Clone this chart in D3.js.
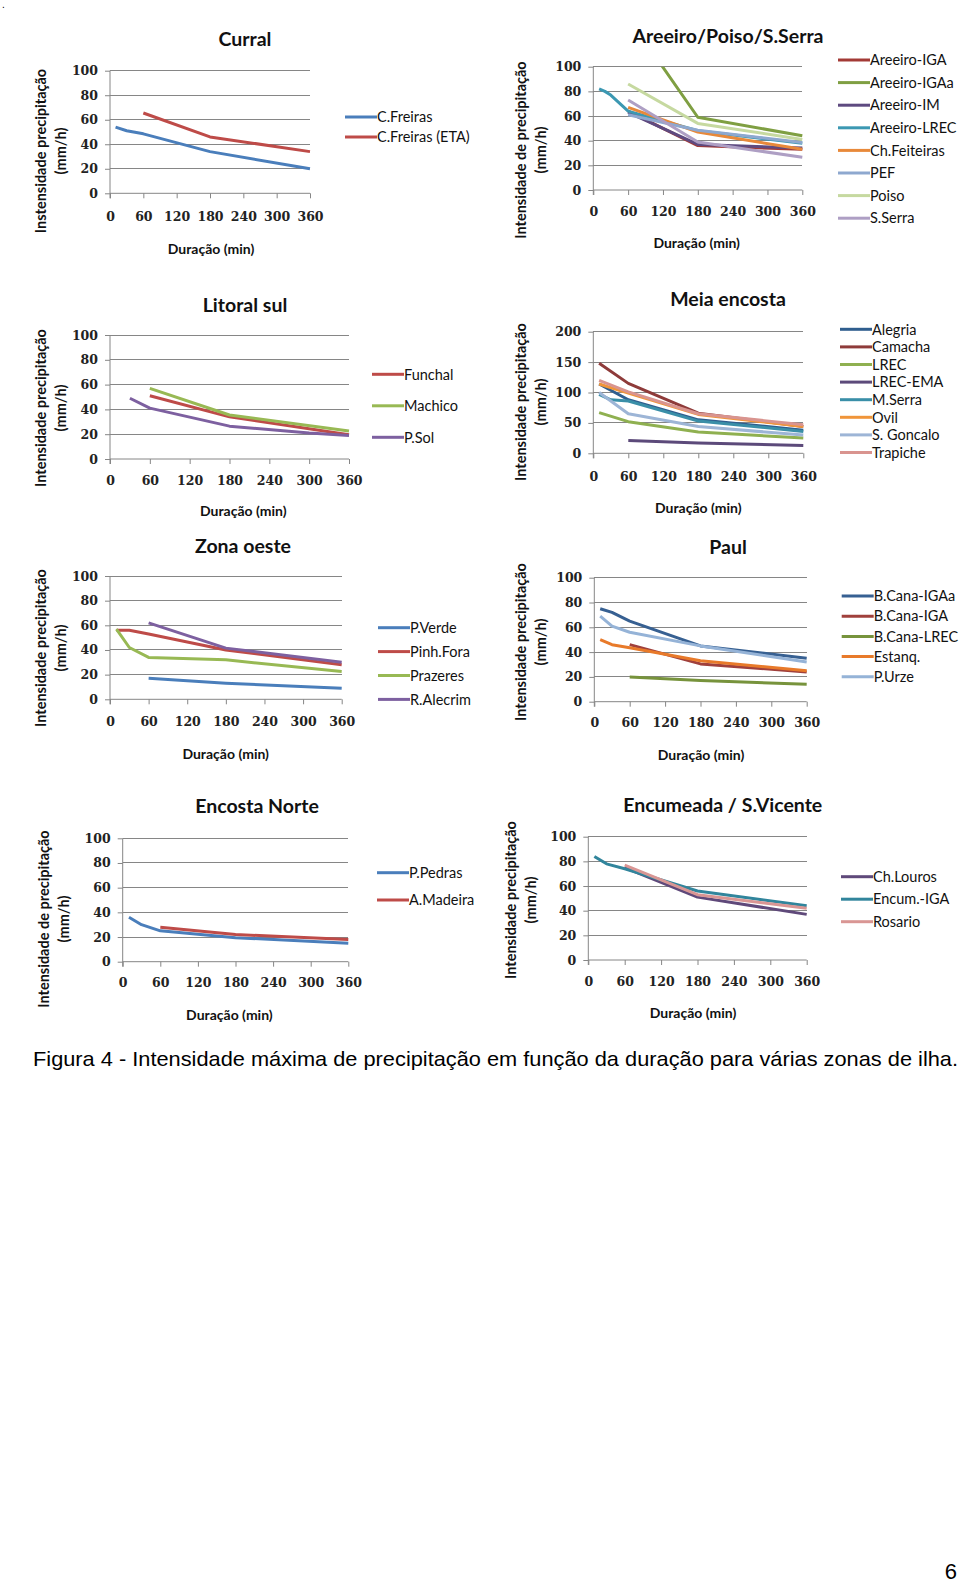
<!DOCTYPE html>
<html><head><meta charset="utf-8">
<script src="https://cdn.jsdelivr.net/npm/d3@7"></script>
<style>
html,body{margin:0;padding:0;background:#fff;}
svg{display:block;}
</style></head>
<body>
<script>
// ---------- DATA ----------
const xTicks = [0, 60, 120, 180, 240, 300, 360];
const yTicks100 = [0, 20, 40, 60, 80, 100];
const yTicks200 = [0, 50, 100, 150, 200];

// Curral
const curralNames = ["C.Freiras", "C.Freiras (ETA)"];
const curralX = [[10, 30, 60, 180, 360], [60, 180, 360]];
const curralY = [[54, 51, 48.5, 34, 20], [65.5, 46, 34]];
const curralColors = ["#4A7EBB", "#BE4B48"];

// Areeiro/Poiso/S.Serra
const areeiroNames = ["Areeiro-IGA", "Areeiro-IGAa", "Areeiro-IM", "Areeiro-LREC", "Ch.Feiteiras", "PEF", "Poiso", "S.Serra"];
const areeiroX = [[60, 180, 360], [60, 180, 360], [60, 180, 360], [10, 20, 30, 60, 180, 360], [60, 180, 360], [60, 180, 360], [60, 180, 360], [60, 180, 360]];
const areeiroY = [[64, 36, 33], [140, 59, 44], [63, 37, 34], [82, 80, 77, 64, 48, 38], [67, 47, 33], [61, 48.5, 38.5], [86, 54, 41], [73, 39, 26.5]];
const areeiroColors = ["#A33A36", "#7F9F42", "#5E4A80", "#3C98B2", "#E8893A", "#8EA8CF", "#C6D9A0", "#AE9FC4"];

// Litoral sul
const litoralNames = ["Funchal", "Machico", "P.Sol"];
const litoralX = [[60, 180, 360], [60, 180, 360], [30, 60, 180, 300, 360]];
const litoralY = [[51, 34, 19.5], [57, 35.5, 22.5], [49, 41, 26.5, 21, 19]];
const litoralColors = ["#BE4B48", "#98B954", "#7D60A0"];

// Meia encosta
const meiaNames = ["Alegria", "Camacha", "LREC", "LREC-EMA", "M.Serra", "Ovil", "S. Goncalo", "Trapiche"];
const meiaX = [[10, 60, 180, 360], [10, 60, 180, 360], [10, 60, 180, 360], [60, 180, 360], [10, 30, 60, 180, 360], [10, 60, 180, 360], [10, 60, 180, 360], [10, 60, 180, 360]];
const meiaY = [[114, 88, 55, 38], [148, 115, 66, 44], [67, 52, 35, 25], [21, 17, 13], [97, 88, 86, 53, 36], [114, 99, 64, 44], [100, 65, 44, 30], [120, 101, 65, 47]];
const meiaColors = ["#2F5E8E", "#8E3B3A", "#8FB050", "#5C4A7A", "#3A8FA8", "#F0953A", "#9DB5D6", "#D9948F"];

// Zona oeste
const oesteNames = ["P.Verde", "Pinh.Fora", "Prazeres", "R.Alecrim"];
const oesteX = [[60, 180, 360], [10, 30, 60, 180, 360], [10, 30, 60, 180, 360], [60, 180, 360]];
const oesteY = [[17, 13, 9], [56, 56, 53, 40, 28], [57, 42, 34, 32, 22.5], [62, 41.5, 30]];
const oesteColors = ["#4A7EBB", "#BE4B48", "#98B954", "#7D60A0"];

// Paul
const paulNames = ["B.Cana-IGAa", "B.Cana-IGA", "B.Cana-LREC", "Estanq.", "P.Urze"];
const paulX = [[10, 30, 60, 180, 360], [60, 180, 360], [60, 180, 360], [10, 30, 60, 180, 360], [10, 30, 60, 180, 360]];
const paulY = [[75, 72, 65, 45, 35], [46, 30.5, 24], [20, 17, 14], [50, 46, 43.5, 33, 25], [69, 61, 56, 45, 32]];
const paulColors = ["#376092", "#A0403C", "#77933C", "#E87A2A", "#95B3D7"];

// Encosta Norte
const norteNames = ["P.Pedras", "A.Madeira"];
const norteX = [[10, 30, 60, 180, 360], [60, 180, 360]];
const norteY = [[36, 30, 25, 19.5, 15], [28, 22, 18]];
const norteColors = ["#4A7EBB", "#BE4B48"];

// Encumeada / S.Vicente
const encumNames = ["Ch.Louros", "Encum.-IGA", "Rosario"];
const encumX = [[60, 180, 360], [10, 30, 60, 180, 360], [60, 180, 360]];
const encumY = [[75, 51, 37], [84, 78, 74, 56, 44], [77, 53, 42]];
const encumColors = ["#5F497A", "#31859C", "#D99694"];

const caption = "Figura 4 - Intensidade máxima de precipitação em função da duração para várias zonas de ilha.";
const pageNumber = "6";

// ---------- LAYOUT ----------
const panels = [
  {title:"Curral", names:curralNames, xs:curralX, ys:curralY, colors:curralColors, yMax:100, yTicks:yTicks100,
   L:110, R:310, T:70.7, B:193.3, titleXY:[245,39], yTitle:["Instensidade precipitação","(mm/h)"], yTitleX:[41,61], yTitleY:151,
   xTitleXY:[211,248.6], legX:345, legY:117, legDy:20, tickDy:26},
  {title:"Areeiro/Poiso/S.Serra", names:areeiroNames, xs:areeiroX, ys:areeiroY, colors:areeiroColors, yMax:100, yTicks:yTicks100,
   L:593.3, R:802.3, T:66.7, B:190, titleXY:[728,35.7], yTitle:["Intensidade de precipitação","(mm/h)"], yTitleX:[521,541], yTitleY:150,
   xTitleXY:[696.7,243.5], legX:838, legY:60, legDy:22.6, tickDy:24},
  {title:"Litoral sul", names:litoralNames, xs:litoralX, ys:litoralY, colors:litoralColors, yMax:100, yTicks:yTicks100,
   L:110, R:349, T:335, B:459, titleXY:[245,305], yTitle:["Intensidade precipitação","(mm/h)"], yTitleX:[41,61], yTitleY:408,
   xTitleXY:[243.3,511], legX:372, legY:374.3, legDy:31.5, tickDy:24},
  {title:"Meia encosta", names:meiaNames, xs:meiaX, ys:meiaY, colors:meiaColors, yMax:200, yTicks:yTicks200,
   L:593.3, R:803.3, T:331.7, B:453.3, titleXY:[728,299], yTitle:["Intensidade precipitação","(mm/h)"], yTitleX:[521,541], yTitleY:402,
   xTitleXY:[698.3,508.5], legX:840, legY:329.3, legDy:17.6, tickDy:26},
  {title:"Zona oeste", names:oesteNames, xs:oesteX, ys:oesteY, colors:oesteColors, yMax:100, yTicks:yTicks100,
   L:110, R:341.7, T:576, B:699.3, titleXY:[243,546], yTitle:["Intensidade precipitação","(mm/h)"], yTitleX:[41,61], yTitleY:648,
   xTitleXY:[225.7,754], legX:378, legY:627.7, legDy:23.9, tickDy:25},
  {title:"Paul", names:paulNames, xs:paulX, ys:paulY, colors:paulColors, yMax:100, yTicks:yTicks100,
   L:594.3, R:806.7, T:577.7, B:701.7, titleXY:[728,547], yTitle:["Intensidade precipitação","(mm/h)"], yTitleX:[521,541], yTitleY:642,
   xTitleXY:[701,755], legX:841.7, legY:596, legDy:20.2, tickDy:23},
  {title:"Encosta Norte", names:norteNames, xs:norteX, ys:norteY, colors:norteColors, yMax:100, yTicks:yTicks100,
   L:122.7, R:348.3, T:838.3, B:961.7, titleXY:[257,806], yTitle:["Intensidade de precipitação","(mm/h)"], yTitleX:[44,64], yTitleY:919,
   xTitleXY:[229.4,1014.6], legX:377, legY:872.7, legDy:27.3, tickDy:23},
  {title:"Encumeada / S.Vicente", names:encumNames, xs:encumX, ys:encumY, colors:encumColors, yMax:100, yTicks:yTicks100,
   L:588.3, R:806.7, T:836.7, B:960, titleXY:[722.7,805], yTitle:["Intensidade precipitação","(mm/h)"], yTitleX:[511,531], yTitleY:900,
   xTitleXY:[693,1013.5], legX:841, legY:876.7, legDy:22.5, tickDy:24}
];

const W = 960, H = 1585;
const svg = d3.select("body").append("svg").attr("width", W).attr("height", H);
svg.append("rect").attr("width", W).attr("height", H).attr("fill", "#fff");

const gridColor = "#868686";
const titleFont = "Lato, 'Open Sans', sans-serif";
const tickFont = "'DejaVu Serif', serif";

panels.forEach((p, pi) => {
  const g = svg.append("g");
  const x = d3.scaleLinear().domain([0, 360]).range([p.L, p.R]);
  const y = d3.scaleLinear().domain([0, p.yMax]).range([p.B, p.T]);

  // title
  g.append("text").attr("x", p.titleXY[0]).attr("y", p.titleXY[1]).attr("dy", "0.35em")
    .attr("text-anchor", "middle").attr("font-family", titleFont).attr("font-weight", 700)
    .attr("font-size", 19.5).attr("fill", "#111").text(p.title);

  // gridlines
  g.selectAll(".grid").data(p.yTicks.filter(v => v > 0)).enter().append("line")
    .attr("x1", p.L).attr("x2", p.R).attr("y1", d => y(d)).attr("y2", d => y(d))
    .attr("stroke", gridColor).attr("stroke-width", 1).attr("shape-rendering", "crispEdges");

  // y axis
  const yAxis = d3.axisLeft(y).tickValues(p.yTicks).tickSize(5).tickPadding(7).tickFormat(d3.format("d"));
  const ya = g.append("g").attr("transform", `translate(${p.L},0)`).call(yAxis);
  ya.select(".domain").attr("stroke", gridColor).attr("d", `M-0,${p.B + 5}V${p.T}`);
  ya.selectAll(".tick line").attr("stroke", gridColor);
  ya.selectAll(".tick text").attr("font-family", tickFont).attr("font-weight", 700)
    .attr("font-size", 12.5).attr("fill", "#222");

  // x axis
  const xAxis = d3.axisBottom(x).tickValues(xTicks).tickSize(5).tickPadding(p.tickDy - 12).tickFormat(d3.format("d"));
  const xa = g.append("g").attr("transform", `translate(0,${p.B})`).call(xAxis);
  xa.select(".domain").attr("stroke", gridColor).attr("d", `M${p.L},0H${p.R}`);
  xa.selectAll(".tick line").attr("stroke", gridColor);
  xa.selectAll(".tick text").attr("font-family", tickFont).attr("font-weight", 700)
    .attr("font-size", 12.5).attr("fill", "#222");

  // clip
  const clipId = "clip" + pi;
  svg.append("clipPath").attr("id", clipId).append("rect")
    .attr("x", p.L - 4).attr("y", p.T).attr("width", p.R - p.L + 8).attr("height", p.B - p.T + 4);

  // series
  const line = d3.line().x(d => x(d[0])).y(d => y(d[1]));
  const lg = g.append("g").attr("clip-path", `url(#${clipId})`);
  p.names.forEach((n, i) => {
    const pts = p.xs[i].map((v, k) => [v, p.ys[i][k]]);
    lg.append("path").datum(pts).attr("d", line).attr("fill", "none")
      .attr("stroke", p.colors[i]).attr("stroke-width", 3)
      .attr("stroke-linejoin", "round").attr("stroke-linecap", "butt");
  });

  // axis titles
  g.append("text").attr("x", p.xTitleXY[0]).attr("y", p.xTitleXY[1]).attr("dy", "0.35em")
    .attr("text-anchor", "middle").attr("font-family", titleFont).attr("font-weight", 700)
    .attr("font-size", 14).attr("fill", "#111").text("Duração (min)");
  p.yTitle.forEach((t, k) => {
    g.append("text").attr("transform", `translate(${p.yTitleX[k]},${p.yTitleY}) rotate(-90)`)
      .attr("dy", "0.35em").attr("text-anchor", "middle").attr("font-family", titleFont)
      .attr("font-weight", 700).attr("font-size", 14.5).attr("fill", "#111").text(t);
  });

  // legend
  p.names.forEach((n, i) => {
    const ly = p.legY + i * p.legDy;
    g.append("line").attr("x1", p.legX).attr("x2", p.legX + 32).attr("y1", ly).attr("y2", ly)
      .attr("stroke", p.colors[i]).attr("stroke-width", 3);
    g.append("text").attr("x", p.legX + 32).attr("y", ly).attr("dy", "0.36em")
      .attr("font-family", titleFont).attr("font-size", 14.5).attr("fill", "#111").text(n);
  });
});

// caption
svg.append("text").attr("x", 33).attr("y", 1066).attr("font-family", "'Liberation Sans', Arial, sans-serif")
  .attr("font-size", 21).attr("fill", "#000").attr("textLength", 925).attr("lengthAdjust", "spacingAndGlyphs")
  .text(caption);
// page number
svg.append("text").attr("x", 957).attr("y", 1579).attr("text-anchor", "end")
  .attr("font-family", "'Liberation Sans', Arial, sans-serif").attr("font-size", 22).attr("fill", "#000")
  .text(pageNumber);
svg.append("text").attr("x", 2).attr("y", 8).attr("font-family", "'Liberation Sans', Arial, sans-serif")
  .attr("font-size", 10).attr("fill", "#000").text(".");
</script>
</body></html>
